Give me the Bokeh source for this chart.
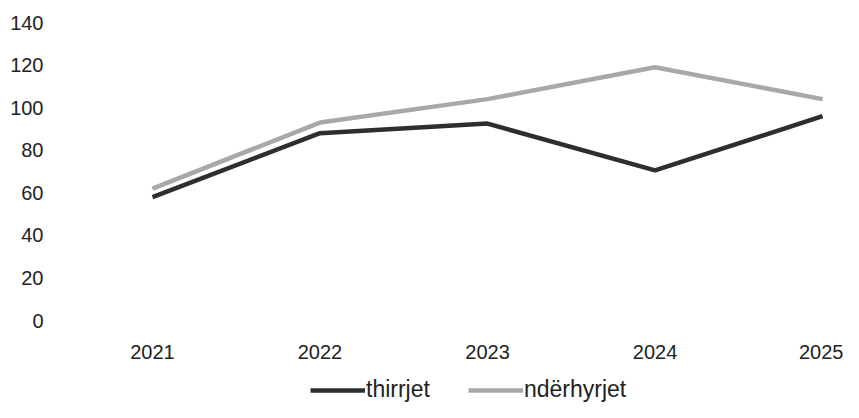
from bokeh.plotting import figure
from bokeh.models import Legend, LegendItem, FixedTicker, Range1d
from bokeh.embed import file_html
from bokeh.resources import INLINE

years = [2021, 2022, 2023, 2024, 2025]
thirrjet = [58, 88, 92.5, 70.5, 96]
nderhyrjet = [62, 93, 104, 119, 104]
y_ticks = [0, 20, 40, 60, 80, 100, 120, 140]

p = figure(width=843, height=402, output_backend="svg", toolbar_location=None,
           x_range=Range1d(2020.421, 2025.125), y_range=Range1d(-38.5, 140),
           min_border_left=55, min_border_right=0, min_border_top=22,
           min_border_bottom=0)
p.outline_line_color = None
p.grid.visible = False
p.background_fill_color = "white"
p.border_fill_color = "white"

for ax in (p.xaxis[0], p.yaxis[0]):
    ax.axis_line_color = None
    ax.major_tick_line_color = None
    ax.minor_tick_line_color = None
    ax.major_label_text_font = "Liberation Sans"
    ax.major_label_text_font_size = "20px"
    ax.major_label_text_color = "#222222"

p.xaxis.ticker = FixedTicker(ticks=years)
p.xaxis.fixed_location = 0
p.xaxis.major_label_standoff = 18
p.yaxis.ticker = FixedTicker(ticks=y_ticks)
p.yaxis.major_label_standoff = 6

r1 = p.line(years, thirrjet, line_color="#2e2e2e", line_width=4.5)
r2 = p.line(years, nderhyrjet, line_color="#a8a8a8", line_width=4.5)

legend = Legend(items=[LegendItem(label="thirrjet", renderers=[r1]),
                       LegendItem(label="ndërhyrjet", renderers=[r2])],
                orientation="horizontal", location=(255, -1),
                glyph_width=55, glyph_height=16, label_height=16,
                label_standoff=1, spacing=38, padding=0, margin=0,
                label_text_font="Liberation Sans", label_text_font_size="23px",
                label_text_color="#222222",
                background_fill_alpha=0, border_line_color=None)
p.add_layout(legend, "center")

open("out.html", "w").write(file_html(p, INLINE))
